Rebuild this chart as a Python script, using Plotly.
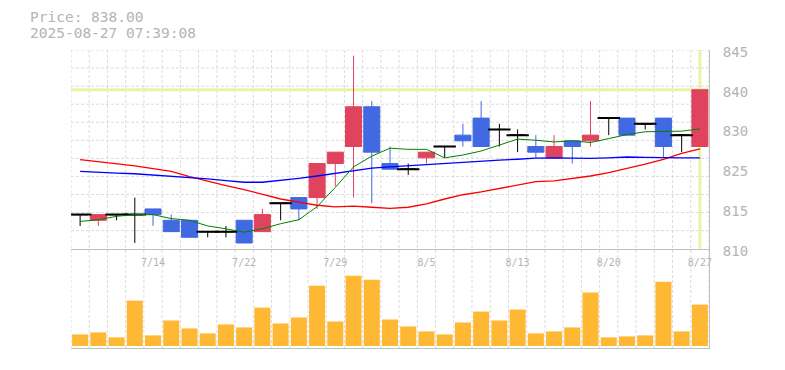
import plotly.graph_objects as go

# ---------------- data ----------------
dates = ['7/8', '7/9', '7/10', '7/11', '7/14', '7/15', '7/16', '7/17', '7/18',
         '7/22', '7/23', '7/24', '7/25', '7/28', '7/29', '7/30', '7/31', '8/1',
         '8/4', '8/5', '8/6', '8/7', '8/8', '8/12', '8/13', '8/14', '8/15',
         '8/18', '8/19', '8/20', '8/21', '8/22', '8/25', '8/26', '8/27']

opens = [816, 815, 816, 816, 817, 815, 815, 813, 813, 815, 813, 818, 819, 819, 825,
         828, 835, 825, 824, 826, 828, 830, 833, 831, 830, 828, 826, 829, 829, 833,
         833, 832, 833, 830, 828]
highs = [816, 816, 816, 819, 817, 816, 815, 813, 814, 815, 817, 818, 819, 825, 827,
         844, 836, 828, 825, 827, 828, 832, 836, 832, 831, 830, 830, 829, 836, 833,
         833, 832, 833, 830, 838]
lows = [814, 814, 815, 811, 814, 813, 812, 812, 812, 811, 813, 815, 815, 817, 821,
        819, 818, 824, 823, 825, 826, 828, 828, 828, 827, 826, 826, 825, 828, 830,
        830, 831, 826, 827, 828]
closes = [816, 816, 816, 816, 816, 813, 812, 813, 813, 811, 816, 818, 817, 825, 827,
          835, 827, 824, 824, 827, 828, 829, 828, 831, 830, 827, 828, 828, 830, 833,
          830, 832, 828, 830, 838]

volumes = [11.7, 13.7, 8.7, 45.7, 10.7, 25.7, 17.7, 12.7, 21.7, 18.7, 38.7, 22.7,
           28.7, 60.7, 24.7, 70.7, 66.7, 26.7, 19.7, 14.7, 11.7, 23.7, 34.7, 25.7,
           36.7, 12.7, 14.7, 18.7, 54.0, 8.7, 9.7, 10.7, 64.7, 14.7, 41.7]

ma_short = [814.8, 815.1, 815.7, 816.0, 816.0, 815.3, 815.0, 814.0, 813.5, 812.9,
            813.5, 814.4, 815.1, 817.4, 820.8, 824.4, 826.3, 827.7, 827.5, 827.5,
            826.0, 826.5, 827.2, 828.2, 829.3, 829.1, 828.8, 829.0, 828.7, 829.4,
            830.1, 830.6, 830.6, 830.7, 831.1]
ma_mid = [823.6, 823.4, 823.3, 823.2, 823.0, 822.7, 822.5, 822.3, 822.0, 821.7,
          821.7, 822.0, 822.4, 822.8, 823.3, 823.7, 824.2, 824.4, 824.6, 824.9,
          825.05, 825.3, 825.45, 825.6, 825.75, 825.95, 826.0, 825.9, 825.9, 826.0,
          826.15, 826.1, 826.0, 826.0, 826.0]
ma_long = [825.7, 825.35, 824.9, 824.6, 824.1, 823.6, 822.7, 821.85, 821.1, 820.4,
           819.6, 818.75, 818.2, 817.65, 817.35, 817.5, 817.3, 817.1, 817.3, 817.9,
           818.75, 819.5, 820.0, 820.6, 821.25, 821.8, 821.95, 822.4, 822.8, 823.4,
           824.1, 824.9, 825.75, 826.8, 827.6]

tick_labels = ['7/14', '7/22', '7/29', '8/5', '8/13', '8/20', '8/27']
price_tickvals = [810, 817, 824, 831, 838, 845]
price_ticktext = ['810', '815', '825', '830', '840', '845']
price_range = [810, 845]
timestamp = '2025-08-27 07:39:08'

# ---------------- styling ----------------
RED = '#e0435e'
BLUE = '#4169e1'
VOL = '#ffb833'
GRID = '#dcdcdc'
AXIS = '#c0c0c0'
TEXT = '#b4b4b4'
HILITE = '#e6f5a3'
FONT = 'DejaVu Sans Mono'

n = len(dates)
xs = list(range(n))


def subset(cond):
    idx = [i for i in xs if cond(opens[i], closes[i])]
    return (idx, [opens[i] for i in idx], [highs[i] for i in idx],
            [lows[i] for i in idx], [closes[i] for i in idx])


fig = go.Figure()


def add_candles(cond, color):
    x, o, h, l, c = subset(cond)
    fig.add_trace(go.Candlestick(
        x=x, open=o, high=h, low=l, close=c, xaxis='x', yaxis='y',
        increasing=dict(line=dict(color=color, width=1), fillcolor=color),
        decreasing=dict(line=dict(color=color, width=1), fillcolor=color),
        whiskerwidth=0, hoverinfo='skip'))
    return x, c


add_candles(lambda o, c: c > o, RED)
add_candles(lambda o, c: c < o, BLUE)
dx, dc = add_candles(lambda o, c: c == o, '#000000')
fig.add_trace(go.Scatter(
    x=dx, y=dc, mode='markers', xaxis='x', yaxis='y', hoverinfo='skip',
    marker=dict(symbol='line-ew', size=16, color='#000000',
                line=dict(color='#000000', width=2))))

for vals, col, w in [(ma_long, '#ff0000', 1.3), (ma_mid, '#0000ff', 1.3),
                     (ma_short, '#008000', 1.0)]:
    fig.add_trace(go.Scatter(x=xs, y=vals, mode='lines', xaxis='x', yaxis='y',
                             line=dict(color=col, width=w), hoverinfo='skip'))

fig.add_trace(go.Bar(x=xs, y=volumes, xaxis='x2', yaxis='y2', width=0.88,
                     marker=dict(color=VOL, line=dict(width=0)), hoverinfo='skip'))

# ---------------- grid / highlight shapes ----------------
shapes = []
for k in range(n + 1):
    shapes.append(dict(type='line', xref='x', yref='paper', x0=k - 0.5, x1=k - 0.5,
                       y0=0, y1=1, layer='below',
                       line=dict(color=GRID, width=1, dash='3px,2px')))
rows = 11
step = (price_range[1] - price_range[0]) / rows
for k in range(1, rows + 1):
    yv = price_range[0] + k * step
    shapes.append(dict(type='line', xref='paper', yref='y', x0=0, x1=1,
                       y0=yv, y1=yv, layer='below',
                       line=dict(color=GRID, width=1, dash='3px,2px')))
shapes.append(dict(type='line', xref='paper', yref='y', x0=0, x1=1,
                   y0=closes[-1], y1=closes[-1], layer='below',
                   line=dict(color=HILITE, width=3)))
shapes.append(dict(type='line', xref='x', yref='y domain', x0=n - 1, x1=n - 1,
                   y0=0, y1=1, layer='below',
                   line=dict(color=HILITE, width=3)))

W, H = 785, 370
ML, MR, MT, MB = 71, 76, 50, 20
pw, ph = W - ML - MR, H - MT - MB


def px_to_paper(xp, yp):
    return (xp - ML) / pw, (H - MB - yp) / ph


ax1, ay1 = px_to_paper(28, 17)
ax2, ay2 = px_to_paper(28, 33)

fig.update_layout(
    width=W, height=H,
    margin=dict(l=ML, r=MR, t=MT, b=MB, pad=0),
    paper_bgcolor='white', plot_bgcolor='white',
    showlegend=False, hovermode=False,
    boxgap=0.12, boxgroupgap=0, boxmode='overlay',
    font=dict(family=FONT, color=TEXT),
    shapes=shapes,
    annotations=[
        dict(xref='paper', yref='paper', x=ax1, y=ay1, xanchor='left',
             yanchor='middle', showarrow=False, text=f'Price: {closes[-1]:.2f}',
             font=dict(family=FONT, size=14.5, color=TEXT)),
        dict(xref='paper', yref='paper', x=ax2, y=ay2, xanchor='left',
             yanchor='middle', showarrow=False, text=timestamp,
             font=dict(family=FONT, size=14.5, color=TEXT)),
    ],
    xaxis=dict(domain=[0, 1], anchor='y', range=[-0.5, n - 0.5],
               tickvals=[dates.index(t) for t in tick_labels], ticktext=tick_labels,
               tickfont=dict(family=FONT, size=10, color=TEXT), ticks='',
               ticklabelstandoff=4,
               showgrid=False, zeroline=False, showline=True, linecolor=AXIS,
               linewidth=1, rangeslider=dict(visible=False), fixedrange=True),
    xaxis2=dict(domain=[0, 1], anchor='y2', matches='x', range=[-0.5, n - 0.5],
                showticklabels=False, ticks='', showgrid=False, zeroline=False,
                showline=True, linecolor=AXIS, linewidth=1, fixedrange=True),
    yaxis=dict(domain=[1 / 3, 1], anchor='x', range=price_range, side='right',
               tickvals=price_tickvals, ticktext=price_ticktext, ticks='',
               tickfont=dict(family=FONT, size=14, color=TEXT),
               ticklabelstandoff=10, ticklabelshift=2,
               showgrid=False, zeroline=False, showline=True, linecolor=AXIS,
               linewidth=1, fixedrange=True),
    yaxis2=dict(domain=[0, 1 / 3], anchor='x2', range=[-2, 98], side='right',
                showticklabels=False, ticks='', showgrid=False, zeroline=False,
                showline=True, linecolor=AXIS, linewidth=1, fixedrange=True),
)

fig.write_html('out.html', config={'displayModeBar': False},
               post_script="document.body.style.margin='0';"
                           "document.body.style.padding='0';")
